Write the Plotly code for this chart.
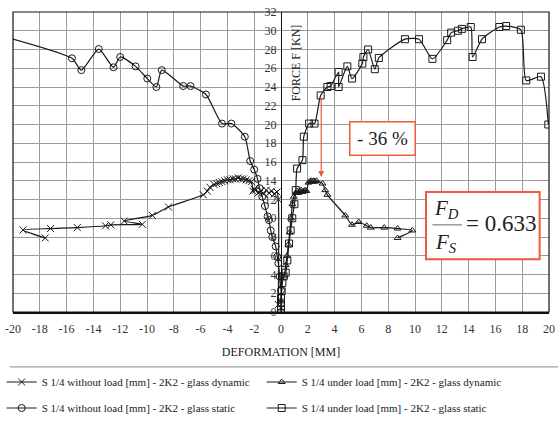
import plotly.graph_objects as go

# ---- data ----
dyn_free_x = [-0.2, -0.2, -0.3, -0.5, -0.7, -0.9, -1.1, -1.3, -1.5, -1.7, -1.9, -2.0, -2.1,
              -2.2, -2.4, -2.6, -2.8, -3.0, -3.2, -3.4, -3.6, -3.8, -4.0, -4.2, -4.4, -4.6,
              -4.8, -5.0, -5.3, -5.5, -5.8, -8.4, -9.6, -11.7, -10.35, -12.7, -13.1, -15.2,
              -17.2, -19.25, -17.6]
dyn_free_y = [0.8, 12.0, 12.8, 12.6, 12.9, 12.7, 13.0, 12.6, 12.9, 12.7, 13.0, 13.1, 12.9,
              13.9, 14.0, 14.1, 14.2, 14.2, 14.3, 14.2, 14.2, 14.1, 14.1, 14.0, 13.9, 13.8,
              13.7, 13.6, 13.3, 12.9, 12.5, 11.2, 10.3, 9.7, 9.35, 9.3, 9.2, 9.0,
              8.9, 8.75, 7.9]

dyn_load_x = [0.25, 0.35, 0.45, 0.55, 0.65, 0.75, 0.85, 0.95, 1.1, 1.2, 1.3, 1.4, 1.5, 1.6,
              1.7, 1.8, 1.9, 2.05, 2.15, 2.25, 2.35, 2.45, 2.55, 2.65, 3.1, 3.3, 3.46, 4.8,
              5.3, 5.8, 6.4, 6.7, 7.7, 8.7, 9.8, 8.7]
dyn_load_y = [3.8, 5.0, 6.0, 7.2, 8.5, 10.0, 11.5, 12.3, 12.7, 12.9, 12.7, 12.9, 13.0, 12.8,
              12.9, 13.0, 12.9, 13.8, 13.9, 14.0, 13.9, 14.0, 13.9, 14.0, 13.7, 13.0, 12.5, 10.3,
              9.3, 9.6, 9.2, 9.0, 9.0, 8.9, 8.7, 7.9]

stat_free_x = [0.0, 0.0, 0.0, -0.1, -0.2, -0.28, -0.4, -0.65, -0.77, -0.9, -1.0, -1.2, -1.4,
               -1.6, -1.75, -2.0, -2.3, -2.7, -3.7, -4.4, -5.6, -6.75, -7.3, -8.9, -9.3,
               -9.98, -10.85, -12.0, -12.5, -13.6, -14.9, -15.6, -22.0]
stat_free_y = [0.0, 0.9, 2.3, 3.8, 5.2, 5.9, 7.0, 8.0, 8.7, 9.8, 10.2, 11.3, 12.3,
               13.2, 14.2, 15.2, 16.1, 18.7, 20.1, 20.1, 23.2, 24.1, 24.1, 25.8, 24.0,
               24.9, 26.2, 27.2, 26.1, 28.05, 25.8, 27.06, 29.9]

stat_load_x = [0.0, 0.0, 0.0, 0.0, 0.05, 0.1, 0.2, 0.35, 0.47, 0.6, 0.72, 0.84, 1.0, 1.1,
               1.2, 1.6, 1.7, 2.1, 2.5, 2.96, 3.46, 3.7, 4.3, 4.3, 4.95, 5.3, 6.07, 6.15,
               6.5, 7.0, 7.3, 9.25, 10.3, 11.3, 12.4, 12.7, 13.2, 13.5, 14.16, 14.3, 15.0,
               16.3, 16.8, 17.9, 18.3, 19.4, 19.95]
stat_load_y = [0.2, 0.6, 1.0, 1.5, 2.2, 3.1, 3.8, 4.2, 5.5, 7.3, 8.7, 10.0, 11.5, 13.0,
               15.3, 16.2, 18.7, 20.1, 20.1, 23.1, 24.0, 24.1, 25.6, 24.0, 26.2, 24.9, 26.5, 27.2,
               28.0, 25.9, 27.1, 29.1, 29.1, 27.0, 29.0, 29.8, 30.0, 30.2, 30.4, 27.2, 29.1,
               30.4, 30.5, 30.1, 24.7, 25.1, 20.0]

names = ["S 1/4 without load [mm] - 2K2 - glass dynamic",
         "S 1/4 under load [mm] - 2K2 - glass dynamic",
         "S 1/4 without load [mm] - 2K2 - glass static",
         "S 1/4 under load [mm] - 2K2 - glass static"]

x_ticks = list(range(-20, 21, 2))
y_ticks = list(range(0, 33, 2))

SERIF = "Liberation Serif, Times New Roman, serif"
RED = "#ee5a3c"
LINE = "#1a1a1a"

fig = go.Figure()

def add(x, y, name, symbol, size, legend):
    fig.add_trace(go.Scatter(
        x=x, y=y, name=name, mode="lines+markers",
        line=dict(color=LINE, width=1.2, shape="spline", smoothing=0.6),
        marker=dict(symbol=symbol, size=size, color=LINE, line=dict(width=1, color=LINE)),
        legend=legend))

add(dyn_free_x, dyn_free_y, names[0], "x-thin-open", 7, "legend")
add(dyn_load_x, dyn_load_y, names[1], "triangle-up-open", 6, "legend")
add(stat_free_x, stat_free_y, names[2], "circle-open", 7, "legend2")
add(stat_load_x, stat_load_y, names[3], "square-open", 7, "legend2")

legend_common = dict(orientation="h", xanchor="left", yanchor="middle",
                     xref="container", yref="container",
                     font=dict(family=SERIF, size=11, color="#222"),
                     entrywidth=215, itemwidth=30, bgcolor="rgba(0,0,0,0)", borderwidth=0)

fig.update_layout(
    width=558, height=423,
    margin=dict(l=13, r=9, t=12, b=111, autoexpand=False),
    paper_bgcolor="white", plot_bgcolor="white",
    font=dict(family=SERIF, color="#222"),
    showlegend=True,
    legend=dict(x=0.003, y=1 - 382 / 423, **legend_common),
    legend2=dict(x=0.003, y=1 - 408 / 423, **legend_common),
    xaxis=dict(range=[-20, 20], tickvals=x_ticks, ticktext=[str(v) for v in x_ticks],
               automargin=False,
               showgrid=True, gridcolor="#9a9a9a", gridwidth=1.2,
               zeroline=False, showline=True, linecolor="#111", linewidth=1.5,
               ticks="", ticklabelstandoff=5,
               tickfont=dict(family=SERIF, size=12, color="#333"),
               title=dict(text="DEFORMATION [MM]", font=dict(family=SERIF, size=12, color="#222"),
                          standoff=12)),
    yaxis=dict(range=[0, 32], tickvals=y_ticks, ticktext=[str(v) for v in y_ticks],
               anchor="free", position=0.5, automargin=False,
               showgrid=True, gridcolor="#9a9a9a", gridwidth=1.2,
               zeroline=False, showline=True, linecolor="#111", linewidth=1.2,
               ticks="", ticklabelstandoff=2,
               tickfont=dict(family=SERIF, size=12, color="#333")),
)

# plot border
fig.add_shape(type="rect", xref="paper", yref="paper", x0=0, y0=0, x1=1, y1=1,
              line=dict(color="#111", width=1.2), layer="above")
# separator line above legend
fig.add_shape(type="line", xref="paper", yref="paper", x0=-0.006, x1=1.017, y0=-0.183, y1=-0.183,
              line=dict(color="#888", width=1))

# y-axis title
fig.add_annotation(x=1.1, y=26.6, xref="x", yref="y", text="FORCE F [KN]", textangle=-90,
                   showarrow=False, font=dict(family=SERIF, size=12, color="#222"))

# -36 % arrow and box
fig.add_annotation(x=3.0, y=14.4, ax=3.0, ay=23.0, xref="x", yref="y", axref="x", ayref="y",
                   text="", showarrow=True, arrowhead=2, arrowsize=1, arrowwidth=1.2,
                   arrowcolor=RED)
fig.add_annotation(x=7.6, y=18.5, xref="x", yref="y", text="- 36 %", showarrow=False,
                   font=dict(family=SERIF, size=19, color="#222"), bgcolor="white",
                   bordercolor=RED, borderwidth=1.5, width=60, height=28, borderpad=2)

# F_D / F_S box
fig.add_shape(type="rect", xref="x", yref="y", x0=10.82, y0=5.62, x1=19.3, y1=12.8,
              line=dict(color=RED, width=2), fillcolor="white", layer="above")
fig.add_shape(type="line", xref="x", yref="y", x0=11.3, x1=13.5, y0=9.3, y1=9.3,
              line=dict(color="#999", width=1.5), layer="above")
fig.add_annotation(x=12.35, y=10.95, xref="x", yref="y", text="<i>F</i><sub><i>D</i></sub>",
                   showarrow=False, font=dict(family=SERIF, size=21, color="#222"))
fig.add_annotation(x=12.35, y=7.35, xref="x", yref="y", text="<i>F</i><sub><i>S</i></sub>",
                   showarrow=False, font=dict(family=SERIF, size=21, color="#222"))
fig.add_annotation(x=16.45, y=9.4, xref="x", yref="y", text="= 0.633",
                   showarrow=False, font=dict(family=SERIF, size=23, color="#222"))

fig.write_html("out.html", config={"displayModeBar": False},
               post_script="document.body.style.margin='0';")
